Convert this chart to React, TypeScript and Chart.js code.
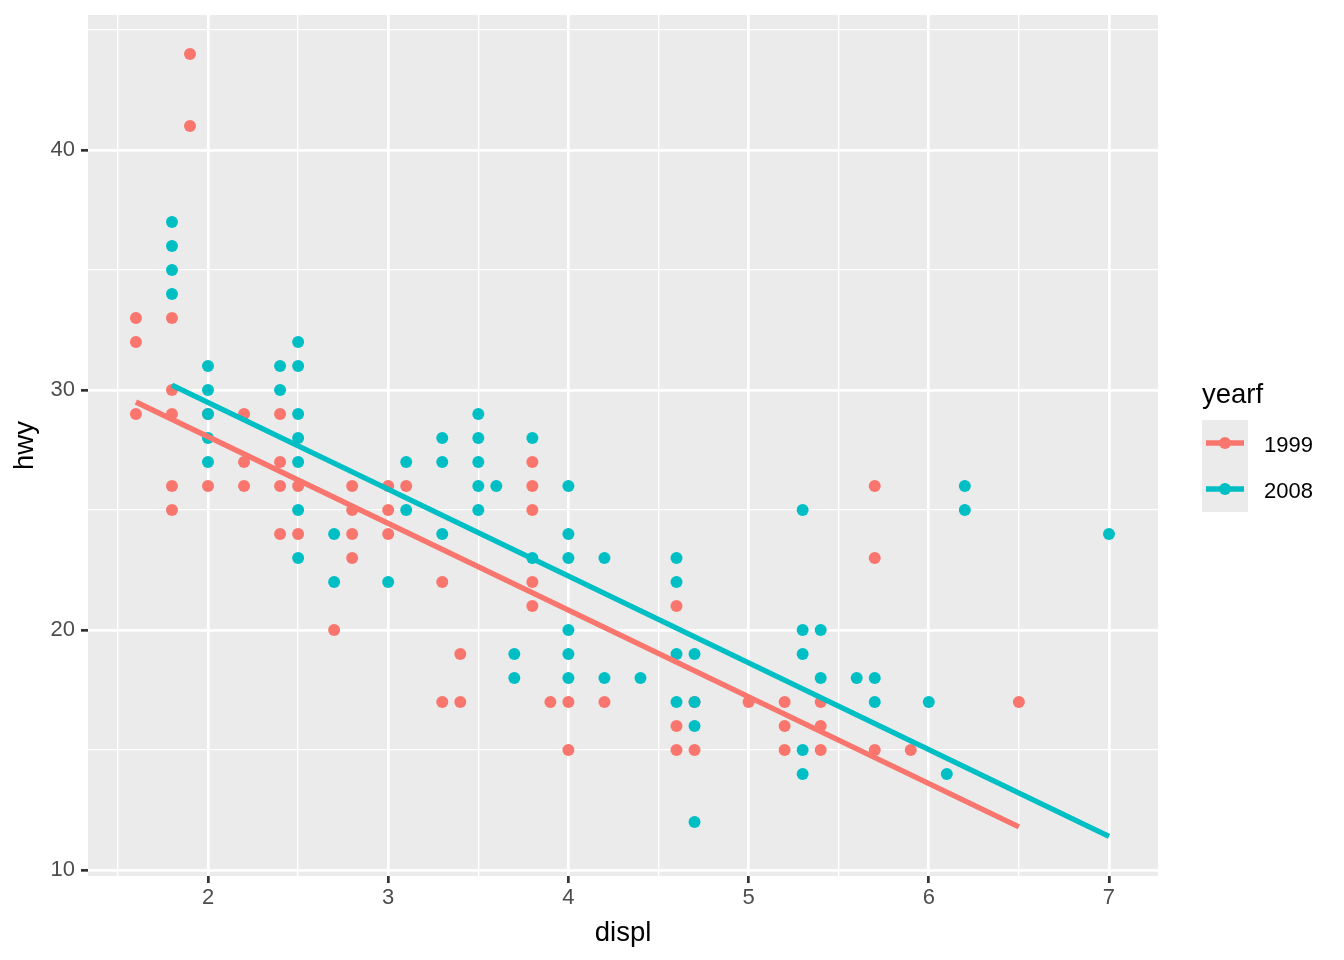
import { useEffect, useRef } from "react";
import Chart from "chart.js/auto";

// mpg: displ vs hwy, one series per model year
const years = ["1999", "2008"];
const colors = ["#F8766D", "#00BFC4"];

const displ1999 = [
  1.6, 1.6, 1.6, 1.8, 1.8, 1.8, 1.8, 1.8, 1.9, 1.9, 2.0, 2.0, 2.2, 2.2, 2.2,
  2.4, 2.4, 2.4, 2.4, 2.5, 2.5, 2.7, 2.8, 2.8, 2.8, 2.8, 3.0, 3.0, 3.0, 3.1,
  3.3, 3.3, 3.4, 3.4, 3.8, 3.8, 3.8, 3.8, 3.8, 3.9, 4.0, 4.0, 4.2, 4.6, 4.6,
  4.6, 4.7, 4.7, 5.0, 5.2, 5.2, 5.2, 5.4, 5.4, 5.4, 5.7, 5.7, 5.7, 5.9, 6.5,
];
const hwy1999 = [
  33, 32, 29, 33, 30, 29, 26, 25, 44, 41, 29, 26, 29, 27, 26,
  29, 27, 26, 24, 26, 24, 20, 26, 25, 24, 23, 26, 25, 24, 26,
  22, 17, 19, 17, 27, 26, 25, 22, 21, 17, 17, 15, 17, 21, 16,
  15, 17, 15, 17, 17, 16, 15, 17, 16, 15, 26, 23, 15, 15, 17,
];

const displ2008 = [
  1.8, 1.8, 1.8, 1.8, 2.0, 2.0, 2.0, 2.0, 2.0, 2.4, 2.4, 2.5, 2.5, 2.5, 2.5,
  2.5, 2.5, 2.5, 2.7, 2.7, 3.0, 3.1, 3.1, 3.3, 3.3, 3.3, 3.5, 3.5, 3.5, 3.5,
  3.5, 3.6, 3.7, 3.7, 3.8, 3.8, 4.0, 4.0, 4.0, 4.0, 4.0, 4.0, 4.2, 4.2, 4.4,
  4.6, 4.6, 4.6, 4.6, 4.7, 4.7, 4.7, 4.7, 5.3, 5.3, 5.3, 5.3, 5.3, 5.4, 5.4,
  5.6, 5.7, 5.7, 6.0, 6.1, 6.2, 6.2, 7.0,
];
const hwy2008 = [
  37, 36, 35, 34, 31, 30, 29, 28, 27, 31, 30, 32, 31, 29, 28,
  27, 25, 23, 24, 22, 22, 27, 25, 28, 27, 24, 29, 28, 27, 26,
  25, 26, 19, 18, 28, 23, 26, 24, 23, 20, 19, 18, 23, 18, 18,
  23, 22, 19, 17, 19, 17, 16, 12, 25, 20, 19, 15, 14, 20, 18,
  18, 18, 17, 17, 14, 26, 25, 24,
];

// linear fits (end points)
const fit1999X = [1.6, 6.5];
const fit1999Y = [29.5, 11.8];
const fit2008X = [1.8, 7.0];
const fit2008Y = [30.2, 11.4];

const xTicks = [1.5, 2, 2.5, 3, 3.5, 4, 4.5, 5, 5.5, 6, 6.5, 7];
const yTicks = [10, 15, 20, 25, 30, 35, 40, 45];

const FONT = "'Liberation Sans', Arial, Helvetica, sans-serif";

const toPoints = (xs: number[], ys: number[]) =>
  xs.map((x, i) => ({ x, y: ys[i] }));

const isMajorX = (v: number) => Number.isInteger(v);
const isMajorY = (v: number) => v % 10 === 0;

const panelBackground = {
  id: "panelBackground",
  beforeDraw(chart: any) {
    const { ctx, chartArea } = chart;
    ctx.save();
    ctx.fillStyle = "#EBEBEB";
    ctx.fillRect(
      chartArea.left,
      chartArea.top,
      chartArea.right - chartArea.left,
      chartArea.bottom - chartArea.top
    );
    ctx.restore();
  },
};

const yearLegend = {
  id: "yearLegend",
  afterDraw(chart: any) {
    const { ctx, chartArea } = chart;
    const x0 = chartArea.right + 44;
    const keyTop = 420;
    const keySize = 46;
    ctx.save();
    ctx.fillStyle = "#000000";
    ctx.font = `27.5px ${FONT}`;
    ctx.textBaseline = "alphabetic";
    ctx.textAlign = "left";
    ctx.fillText("yearf", x0, 403);

    years.forEach((label, i) => {
      const top = keyTop + i * keySize;
      const cy = top + keySize / 2;
      ctx.fillStyle = "#EBEBEB";
      ctx.fillRect(x0, top, keySize, keySize);
      ctx.strokeStyle = colors[i];
      ctx.lineWidth = 5.3;
      ctx.lineCap = "butt";
      ctx.beginPath();
      ctx.moveTo(x0 + 4, cy);
      ctx.lineTo(x0 + keySize - 4, cy);
      ctx.stroke();
      ctx.fillStyle = colors[i];
      ctx.beginPath();
      ctx.arc(x0 + keySize / 2, cy, 6, 0, Math.PI * 2);
      ctx.fill();
      ctx.fillStyle = "#000000";
      ctx.font = `22px ${FONT}`;
      ctx.fillText(label, x0 + 62, cy + 8.5);
    });
    ctx.restore();
  },
};

export default function App() {
  const chartRef = useRef<HTMLCanvasElement>(null);
  const chartInstance = useRef<Chart | null>(null);

  useEffect(() => {
    document.body.style.margin = "0";
    if (chartInstance.current) {
      chartInstance.current.destroy();
    }
    const ctx = chartRef.current?.getContext("2d");
    if (!ctx) return;

    chartInstance.current = new Chart(ctx, {
      type: "scatter",
      data: {
        datasets: [
          {
            type: "line",
            label: "fit 1999",
            data: toPoints(fit1999X, fit1999Y),
            borderColor: colors[0],
            borderWidth: 5.3,
            borderCapStyle: "butt",
            pointRadius: 0,
            fill: false,
            order: 0,
          },
          {
            type: "line",
            label: "fit 2008",
            data: toPoints(fit2008X, fit2008Y),
            borderColor: colors[1],
            borderWidth: 5.3,
            borderCapStyle: "butt",
            pointRadius: 0,
            fill: false,
            order: 0,
          },
          {
            label: years[1],
            data: toPoints(displ2008, hwy2008),
            backgroundColor: colors[1],
            borderWidth: 0,
            pointRadius: 6,
            order: 1,
          },
          {
            label: years[0],
            data: toPoints(displ1999, hwy1999),
            backgroundColor: colors[0],
            borderWidth: 0,
            pointRadius: 6,
            order: 2,
          },
        ],
      } as any,
      plugins: [panelBackground, yearLegend],
      options: {
        responsive: false,
        devicePixelRatio: 1,
        animation: false,
        layout: {
          autoPadding: false,
          padding: { top: 15, right: 186, left: 0, bottom: 0 },
        },
        plugins: {
          legend: { display: false },
          tooltip: { enabled: false },
        },
        scales: {
          x: {
            type: "linear",
            min: 1.334,
            max: 7.272,
            afterBuildTicks: (axis: any) => {
              axis.ticks = xTicks.map((value) => ({ value }));
            },
            afterFit: (axis: any) => {
              axis.height = 84;
              axis.paddingLeft = 0;
              axis.paddingRight = 0;
            },
            ticks: {
              autoSkip: false,
              maxRotation: 0,
              padding: 2,
              color: "#4D4D4D",
              font: { family: FONT, size: 22 },
              callback: (v: any) => (isMajorX(Number(v)) ? String(v) : ""),
            },
            grid: {
              color: "#FFFFFF",
              lineWidth: (c: any) => (isMajorX(c.tick.value) ? 2.7 : 1.35),
              tickColor: (c: any) =>
                isMajorX(c.tick.value) ? "#333333" : "rgba(0,0,0,0)",
              tickWidth: 2.7,
              tickLength: 7,
            },
            border: { display: false },
            title: {
              display: true,
              text: "displ",
              color: "#000000",
              font: { family: FONT, size: 27.5 },
              padding: { top: 0, bottom: 10 },
            },
          },
          y: {
            type: "linear",
            min: 9.75,
            max: 45.625,
            afterBuildTicks: (axis: any) => {
              axis.ticks = yTicks.map((value) => ({ value }));
            },
            afterFit: (axis: any) => {
              axis.width = 88;
              axis.paddingTop = 0;
              axis.paddingBottom = 0;
            },
            ticks: {
              autoSkip: false,
              padding: 6,
              color: "#4D4D4D",
              font: { family: FONT, size: 22 },
              callback: (v: any) => (isMajorY(Number(v)) ? String(v) : ""),
            },
            grid: {
              color: "#FFFFFF",
              lineWidth: (c: any) => (isMajorY(c.tick.value) ? 2.7 : 1.35),
              tickColor: (c: any) =>
                isMajorY(c.tick.value) ? "#333333" : "rgba(0,0,0,0)",
              tickWidth: 2.7,
              tickLength: 7,
            },
            border: { display: false },
            title: {
              display: true,
              text: "hwy",
              color: "#000000",
              font: { family: FONT, size: 27.5 },
              padding: { top: 9, bottom: 0 },
            },
          },
        },
      } as any,
    });

    return () => {
      if (chartInstance.current) {
        chartInstance.current.destroy();
        chartInstance.current = null;
      }
    };
  }, []);

  return (
    <div style={{ width: 1344, height: 960, background: "#FFFFFF" }}>
      <canvas ref={chartRef} width={1344} height={960} />
    </div>
  );
}
